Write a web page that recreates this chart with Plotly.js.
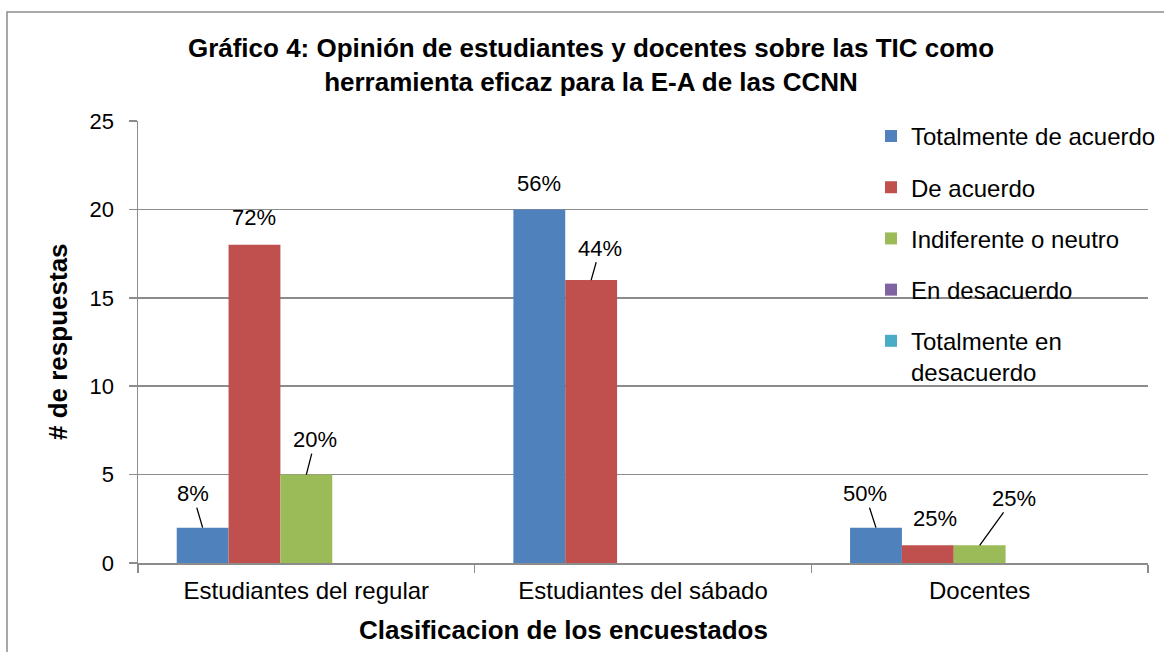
<!DOCTYPE html>
<html>
<head>
<meta charset="utf-8">
<script src="https://cdn.plot.ly/plotly-3.0.1.min.js"></script>
<style>
  html, body { margin: 0; padding: 0; background: #fff; }
  #chart { width: 1164px; height: 652px; }
</style>
</head>
<body>
<div id="chart"></div>
<script>
// Datos del gráfico
const categorias = ['Estudiantes del regular', 'Estudiantes del sábado', 'Docentes'];
const series = ['Totalmente de acuerdo', 'De acuerdo', 'Indiferente o neutro', 'En desacuerdo', 'Totalmente en<br>desacuerdo'];
const totalmenteDeAcuerdo = [2, 20, 2];
const deAcuerdo = [18, 16, 1];
const indiferente = [5, 0, 1];
const enDesacuerdo = [0, 0, 0];
const totalmenteEnDesacuerdo = [0, 0, 0];
const valores = [totalmenteDeAcuerdo, deAcuerdo, indiferente, enDesacuerdo, totalmenteEnDesacuerdo];

// Etiquetas de porcentaje
const pctTotalmente = ['8%', '56%', '50%'];
const pctDeAcuerdo = ['72%', '44%', '25%'];
const pctIndiferente = ['20%', '', '25%'];
const porcentajes = [pctTotalmente, pctDeAcuerdo, pctIndiferente, ['', '', ''], ['', '', '']];

// Estilo
const colores = ['#4F81BD', '#C0504D', '#9BBB59', '#8064A2', '#4BACC6'];
const fuente = '"Liberation Sans", Arial, sans-serif';
const gris = '#8c8c8c';

// Posición manual de las etiquetas (px, relativo a la parte superior de la barra)
const etiquetaDx = [[-10, 0, -11], [0, 9, 7], [9, 0, 34], [0, 0, 0], [0, 0, 0]];
const etiquetaDy = [[-34, -26, -34], [-27, -32, -27], [-35, 0, -47], [0, 0, 0], [0, 0, 0]];
const conLinea = [[true, false, true], [false, true, false], [true, false, true], [false, false, false], [false, false, false]];

const W = 1164, H = 652;
const margen = { l: 138, r: 16, t: 121, b: 89, autoexpand: false };
const bargap = 0.23;

const traces = series.map((nombre, i) => ({
    type: 'bar',
    name: nombre,
    x: categorias,
    y: valores[i],
    legendgroup: 'g' + i,
    marker: { color: colores[i], line: { width: 0 } },
    hoverinfo: 'x+y+name'
}));

// Ancho de cada barra en px para ubicar las etiquetas
const anchoPlot = W - margen.l - margen.r;
const anchoBarra = anchoPlot / categorias.length * (1 - bargap) / series.length;

const anotaciones = [];
valores.forEach((serie, i) => {
    serie.forEach((v, j) => {
        const txt = porcentajes[i][j];
        if (!txt) return;
        anotaciones.push({
            x: categorias[j],
            y: v,
            xref: 'x',
            yref: 'y',
            xshift: (i - (series.length - 1) / 2) * anchoBarra,
            text: txt,
            showarrow: true,
            arrowhead: 0,
            arrowwidth: 1.3,
            arrowcolor: conLinea[i][j] ? '#000' : 'rgba(0,0,0,0)',
            standoff: 0,
            ax: etiquetaDx[i][j],
            ay: etiquetaDy[i][j],
            font: { family: fuente, size: 22, color: '#000' }
        });
    });
});

// Títulos de los ejes
anotaciones.push({
    xref: 'paper', yref: 'paper',
    x: (563 - margen.l) / anchoPlot, y: -0.152,
    xanchor: 'center', yanchor: 'middle',
    text: '<b>Clasificacion de los encuestados</b>',
    showarrow: false,
    font: { family: fuente, size: 26, color: '#000' }
});
anotaciones.push({
    xref: 'paper', yref: 'paper',
    x: (58 - margen.l) / anchoPlot, y: 0.5,
    xanchor: 'center', yanchor: 'middle',
    textangle: -90,
    text: '<b># de respuestas</b>',
    showarrow: false,
    font: { family: fuente, size: 26, color: '#000' }
});

const alturaPlot = H - margen.t - margen.b;

const layout = {
    width: W,
    height: H,
    margin: margen,
    paper_bgcolor: '#fff',
    plot_bgcolor: '#fff',
    font: { family: fuente, color: '#000' },
    title: {
        text: '<b>Gráfico 4: Opinión de estudiantes y docentes sobre las TIC como<br>herramienta eficaz para la E-A de las CCNN</b>',
        font: { family: fuente, size: 26, color: '#000' },
        x: 591 / W,
        xanchor: 'center',
        xref: 'container',
        y: 1 - 57 / H,
        yanchor: 'top',
        yref: 'container'
    },
    barmode: 'group',
    bargap: bargap,
    bargroupgap: 0,
    xaxis: {
        type: 'category',
        showline: true,
        linecolor: gris,
        linewidth: 1.5,
        ticks: 'outside',
        tickson: 'boundaries',
        ticklen: 8,
        tickcolor: gris,
        tickwidth: 1.5,
        ticklabelstandoff: 6,
        showgrid: false,
        tickfont: { family: fuente, size: 24, color: '#000' },
        fixedrange: true
    },
    yaxis: {
        range: [0, 25],
        dtick: 5,
        showline: true,
        linecolor: gris,
        linewidth: 1.5,
        ticks: 'outside',
        ticklen: 8,
        tickcolor: gris,
        tickwidth: 1.5,
        ticklabelstandoff: 10,
        showgrid: true,
        gridcolor: gris,
        gridwidth: 1.5,
        zeroline: false,
        tickfont: { family: fuente, size: 22, color: '#000' },
        fixedrange: true
    },
    legend: {
        x: (871 - margen.l) / anchoPlot,
        xanchor: 'left',
        y: 1.016,
        yanchor: 'top',
        valign: 'top',
        bgcolor: 'rgba(0,0,0,0)',
        tracegroupgap: 17,
        font: { family: fuente, size: 24, color: '#000' }
    },
    shapes: [{
        type: 'rect',
        xref: 'paper', yref: 'paper',
        x0: (7 - margen.l) / anchoPlot,
        x1: 1.3,
        y0: -0.5,
        y1: (H - margen.b - 12) / alturaPlot,
        line: { color: gris, width: 1.5 },
        fillcolor: 'rgba(0,0,0,0)',
        layer: 'below'
    }],
    annotations: anotaciones
};

Plotly.newPlot('chart', traces, layout, { displayModeBar: false, staticPlot: true });
</script>
</body>
</html>
